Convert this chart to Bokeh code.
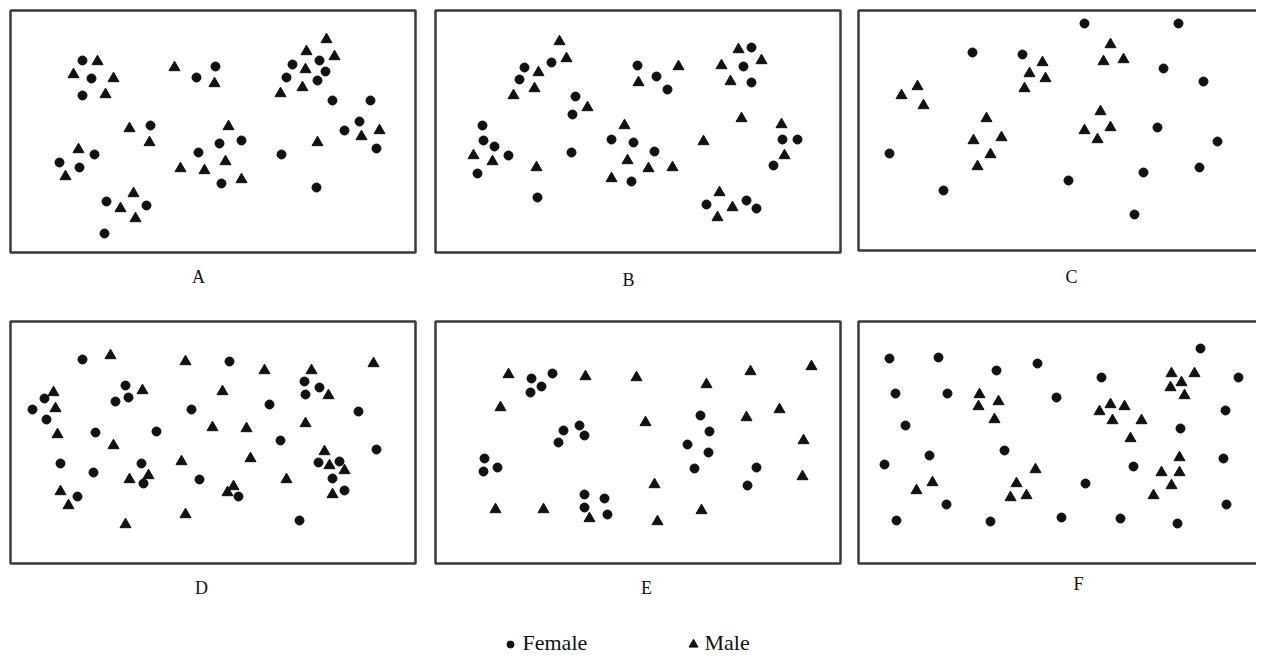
from bokeh.plotting import figure
from bokeh.models import Range1d, ColumnDataSource
from bokeh.core.properties import value
from bokeh.embed import file_html
from bokeh.resources import INLINE

# ---------------- data (panel-local units: x from panel left, y up from panel bottom) ----------------
A_female_x = [72, 81, 72, 205, 186, 140, 84, 49, 69, 188, 209, 231, 211, 96, 136, 94,
              282, 309, 276, 315, 307, 322, 360, 349, 334, 366, 271, 306]
A_female_y = [192, 174, 157, 186, 175, 127, 98, 90, 85, 100, 109, 112, 69, 51, 47, 19,
              188, 192, 175, 181, 172, 152, 152, 131, 122, 104, 98, 65]
A_male_x = [87, 63, 103, 95, 164, 204, 119, 139, 68, 55, 170, 194, 123, 110, 125,
            316, 296, 324, 295, 292, 270, 218, 215, 231, 307, 351, 369]
A_male_y = [191, 178, 174, 158, 185, 169, 124, 110, 103, 76, 84, 82, 59, 44, 34,
            213, 201, 196, 183, 165, 159, 126, 91, 73, 110, 116, 122]

B_female_x = [89, 84, 116, 140, 137, 47, 48, 59, 73, 42, 136, 102, 176, 198, 196, 202,
              221, 232, 316, 308, 316, 219, 347, 362, 338, 271, 311, 321]
B_female_y = [185, 173, 190, 156, 138, 127, 112, 106, 97, 79, 100, 55, 113, 110, 71, 187,
              176, 163, 205, 186, 170, 101, 113, 113, 87, 48, 52, 44]
B_male_x = [124, 131, 103, 99, 78, 152, 38, 57, 101, 189, 192, 176, 203,
            243, 303, 286, 326, 295, 306, 346, 349, 268, 213, 237, 284, 297, 282]
B_male_y = [211, 194, 180, 164, 157, 145, 97, 91, 85, 127, 92, 74, 170,
            186, 203, 187, 192, 171, 134, 128, 97, 111, 84, 85, 60, 45, 35]

C_female_x = [114, 164, 31, 85, 210, 226, 320, 305, 345, 299, 359, 285, 341, 276]
C_female_y = [198, 196, 97, 60, 70, 227, 227, 182, 169, 123, 109, 78, 83, 36]
C_male_x = [59, 43, 65, 184, 171, 187, 166, 128, 115, 143, 132, 119, 252, 245, 265, 242, 226, 252, 239]
C_male_y = [164, 155, 145, 188, 177, 172, 162, 132, 110, 113, 96, 84, 206, 189, 191, 139, 120, 123, 111]

D_female_x = [72, 115, 105, 118, 34, 22, 36, 181, 85, 146, 50, 83, 131, 133, 189, 67,
              219, 294, 309, 295, 259, 348, 270, 366, 308, 329, 322, 334, 228, 289]
D_female_y = [204, 178, 162, 166, 165, 154, 144, 154, 131, 132, 100, 91, 100, 80, 84, 67,
              202, 182, 176, 169, 159, 152, 123, 114, 101, 102, 85, 73, 67, 43]
D_male_x = [100, 175, 43, 132, 45, 47, 202, 103, 171, 119, 138, 50, 58, 175, 115,
            254, 301, 363, 212, 318, 295, 236, 240, 314, 319, 334, 276, 223, 217, 322]
D_male_y = [208, 202, 171, 173, 155, 129, 136, 118, 102, 84, 88, 72, 58, 49, 39,
            193, 193, 200, 172, 168, 140, 135, 105, 112, 98, 93, 84, 77, 71, 69]

E_female_x = [96, 117, 106, 95, 128, 144, 149, 123, 49, 62, 48, 149, 169, 149, 172,
              265, 274, 252, 273, 259, 321, 312]
E_female_y = [185, 190, 177, 171, 133, 138, 128, 121, 105, 96, 92, 69, 65, 56, 49,
              148, 132, 119, 111, 95, 96, 78]
E_male_x = [73, 150, 201, 65, 60, 108, 154, 271, 315, 376, 210, 311, 344, 368, 367, 219, 266, 222]
E_male_y = [189, 187, 186, 156, 54, 54, 45, 179, 192, 197, 141, 146, 154, 123, 87, 79, 53, 42]

F_female_x = [31, 80, 138, 179, 37, 89, 198, 47, 146, 71, 26, 88, 38, 132, 203,
              342, 243, 380, 367, 322, 365, 275, 227, 368, 262, 319]
F_female_y = [205, 206, 193, 200, 170, 170, 166, 138, 113, 108, 99, 59, 43, 42, 46,
              215, 186, 186, 153, 135, 105, 97, 80, 59, 45, 40]
F_male_x = [121, 120, 140, 136, 177, 74, 58, 158, 152, 168,
            313, 336, 323, 312, 326, 252, 266, 241, 254, 283, 272, 321, 303, 321, 313, 295]
F_male_y = [169, 157, 162, 144, 94, 81, 73, 80, 66, 68,
            190, 190, 181, 176, 168, 159, 157, 152, 143, 143, 125, 106, 91, 91, 78, 68]

panel_names = ["A", "B", "C", "D", "E", "F"]
legend_labels = ["Female", "Male"]

# ---------------- layout (page pixels) ----------------
# name: (left, top, right, bottom, label_x, label_y)
GEOM = {
    "A": (10, 10, 415, 252, 198, 276),
    "B": (435, 10, 840, 252, 628, 279),
    "C": (858, 10, 1270, 250, 1071, 276),
    "D": (10, 321, 415, 563, 201, 587),
    "E": (435, 321, 840, 563, 646, 587),
    "F": (858, 321, 1270, 563, 1078, 583),
}
DATA = {
    "A": (A_female_x, A_female_y, A_male_x, A_male_y),
    "B": (B_female_x, B_female_y, B_male_x, B_male_y),
    "C": (C_female_x, C_female_y, C_male_x, C_male_y),
    "D": (D_female_x, D_female_y, D_male_x, D_male_y),
    "E": (E_female_x, E_female_y, E_male_x, E_male_y),
    "F": (F_female_x, F_female_y, F_male_x, F_male_y),
}

INK = "#111111"
SERIF = value("Liberation Serif")
W, H = 1256, 657

p = figure(width=W, height=H,
           x_range=Range1d(0, W), y_range=Range1d(H, 0),
           output_backend="svg", toolbar_location=None, min_border=0)
p.axis.visible = False
p.grid.visible = False
p.outline_line_color = None
p.background_fill_color = "white"
p.border_fill_color = "white"

for name in panel_names:
    left, top, right, bottom, lx, ly = GEOM[name]
    fx, fy, mx, my = DATA[name]
    p.quad(left=[left], right=[right], top=[top], bottom=[bottom],
           fill_color=None, line_color="#3a3a3a", line_width=2.5)
    fsrc = ColumnDataSource(dict(x=[left + v for v in fx], y=[bottom - v for v in fy]))
    msrc = ColumnDataSource(dict(x=[left + v for v in mx], y=[bottom - v for v in my]))
    p.scatter("x", "y", source=fsrc, marker="circle", size=9,
              fill_color=INK, line_color=INK)
    p.scatter("x", "y", source=msrc, marker="triangle", size=11,
              fill_color=INK, line_color=INK)
    p.text(x=[lx], y=[ly], text=[name], text_font=SERIF, text_font_size="18px",
           text_align="center", text_baseline="middle", text_color=INK)

# legend
leg_y = 642
p.scatter(x=[510], y=[leg_y + 2], marker="circle", size=7, fill_color=INK, line_color=INK)
p.text(x=[522], y=[leg_y], text=[legend_labels[0]], text_font=SERIF, text_font_size="22px",
       text_align="left", text_baseline="middle", text_color=INK)
p.scatter(x=[693], y=[leg_y + 2], marker="triangle", size=9, fill_color=INK, line_color=INK)
p.text(x=[704], y=[leg_y], text=[legend_labels[1]], text_font=SERIF, text_font_size="22px",
       text_align="left", text_baseline="middle", text_color=INK)

open("out.html", "w").write(file_html(p, INLINE))
